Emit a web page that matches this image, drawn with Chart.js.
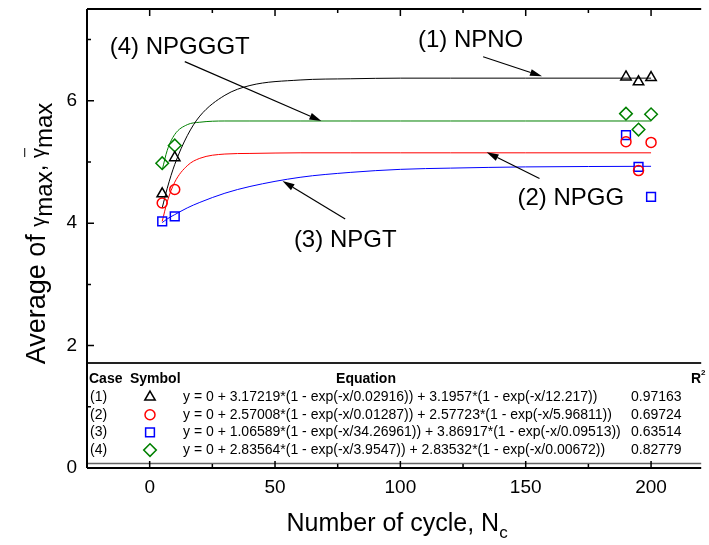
<!DOCTYPE html>
<html lang="en">
<head>
<meta charset="UTF-8">
<title>Average of gamma max vs number of cycle</title>
<script src="https://cdn.jsdelivr.net/npm/chart.js"></script>
<style>
  html, body { margin: 0; padding: 0; background: #fff; }
  #wrap { width: 709px; height: 545px; }
</style>
</head>
<body>
<div id="wrap"><canvas id="myChart" width="709" height="545"></canvas></div>
<script>
// measured points (N_c, average gamma max)
const cycles = [5, 10, 190, 195, 200];
const npnoVals = [4.48, 5.07, 6.39, 6.31, 6.38];
const npggVals = [4.33, 4.55, 5.33, 4.86, 5.32];
const npgtVals = [4.03, 4.11, 5.44, 4.92, 4.43];
const npgggtVals = [4.98, 5.27, 5.79, 5.53, 5.78];

// fitted curves
const fitX = [5, 7, 10, 15, 20, 30, 40, 60, 80, 100, 120, 150, 200];
const npnoFit = [4.25, 4.57, 4.96, 5.43, 5.75, 6.09, 6.25, 6.34, 6.36, 6.37, 6.37, 6.37, 6.37];
const npggFit = [4.03, 4.35, 4.67, 4.94, 5.06, 5.13, 5.14, 5.15, 5.15, 5.15, 5.15, 5.15, 5.15];
const npgtFit = [4.01, 4.07, 4.14, 4.25, 4.34, 4.49, 4.60, 4.75, 4.83, 4.88, 4.90, 4.92, 4.93];
const npgggtFit = [4.87, 5.19, 5.45, 5.61, 5.65, 5.67, 5.67, 5.67, 5.67, 5.67, 5.67, 5.67, 5.67];

// axes
const xTicks = [0, 50, 100, 150, 200];
const xMinor = [25, 75, 125, 175];
const yTicks = [0, 2, 4, 6];
const yMinor = [1, 3, 5, 7];

// fit table
const caseLabels = ['(1)', '(2)', '(3)', '(4)'];
const equations = [
  'y = 0 + 3.17219*(1 - exp(-x/0.02916)) + 3.1957*(1 - exp(-x/12.217))',
  'y = 0 + 2.57008*(1 - exp(-x/0.01287)) + 2.57723*(1 - exp(-x/5.96811))',
  'y = 0 + 1.06589*(1 - exp(-x/34.26961)) + 3.86917*(1 - exp(-x/0.09513))',
  'y = 0 + 2.83564*(1 - exp(-x/3.9547)) + 2.83532*(1 - exp(-x/0.00672))'
];
const rSquared = ['0.97163', '0.69724', '0.63514', '0.82779'];

// callouts (data units)
const calloutText = ['(1) NPNO', '(2) NPGG', '(3) NPGT', '(4) NPGGGT'];
const calloutX = [128, 168, 78, 12];
const calloutY = [6.99, 4.41, 3.72, 6.88];
const arrowFromX = [133, 155.5, 78, 14];
const arrowFromY = [6.72, 4.73, 4.07, 6.64];
const arrowToX = [156.5, 134.4, 53, 68.5];
const arrowToY = [6.40, 5.16, 4.69, 5.67];

const FONT = "'Liberation Sans', Arial, sans-serif";
const colors = ['#000000', '#ff0000', '#0000ff', '#008000'];
const styles = [
  { pointStyle: 'triangle', radius: 6 },
  { pointStyle: 'circle', radius: 5 },
  { pointStyle: 'rect', radius: 6.2 },
  { pointStyle: 'rectRot', radius: 6.3 }
];

const pts = (xs, ys) => xs.map((x, i) => ({ x: x, y: ys[i] }));
const seriesVals = [npnoVals, npggVals, npgtVals, npgggtVals];
const fitVals = [npnoFit, npggFit, npgtFit, npgggtFit];

const datasets = [];
seriesVals.forEach((v, i) => {
  datasets.push({
    data: pts(cycles, v),
    showLine: false,
    pointStyle: styles[i].pointStyle,
    pointRadius: styles[i].radius,
    pointBorderWidth: 1.5,
    pointBorderColor: colors[i],
    pointBackgroundColor: 'rgba(0,0,0,0)'
  });
});
fitVals.forEach((v, i) => {
  datasets.push({
    data: pts(fitX, v),
    showLine: true,
    borderColor: colors[i],
    borderWidth: 1,
    pointRadius: 0,
    cubicInterpolationMode: 'monotone'
  });
});

// rich text: parts drawn left to right, centred on (cx, cy)
function drawRich(ctx, parts, cx, cy, rot) {
  ctx.save();
  ctx.translate(cx, cy);
  if (rot) ctx.rotate(rot);
  let total = 0;
  parts.forEach(p => {
    ctx.font = p.size + 'px ' + FONT;
    p.w = ctx.measureText(p.t).width;
    total += p.w;
  });
  let x = -total / 2;
  const base = parts[0].size * 0.36;
  ctx.fillStyle = '#000';
  ctx.strokeStyle = '#000';
  ctx.textBaseline = 'alphabetic';
  ctx.textAlign = 'left';
  parts.forEach(p => {
    ctx.font = p.size + 'px ' + FONT;
    ctx.fillText(p.t, x, base + (p.dy || 0));
    if (p.over) {
      ctx.lineWidth = 1;
      ctx.beginPath();
      ctx.moveTo(x + 1, base - p.size * 1.0);
      ctx.lineTo(x + p.w, base - p.size * 1.0);
      ctx.stroke();
    }
    x += p.w;
  });
  ctx.restore();
}

function marker(ctx, i, x, y) {
  ctx.save();
  ctx.strokeStyle = colors[i];
  ctx.fillStyle = 'rgba(0,0,0,0)';
  ctx.lineWidth = 1.5;
  Chart.helpers.drawPoint(ctx, { pointStyle: styles[i].pointStyle, radius: styles[i].radius, borderWidth: 1.5, rotation: 0 }, x, y);
  ctx.restore();
}

const callouts = {
  id: 'callouts',
  afterDatasetsDraw(chart) {
    const ctx = chart.ctx, xs = chart.scales.x, ys = chart.scales.y;
    ctx.save();
    ctx.fillStyle = '#000';
    ctx.strokeStyle = '#000';
    ctx.font = '24px ' + FONT;
    ctx.textAlign = 'center';
    ctx.textBaseline = 'middle';
    calloutText.forEach((t, i) => {
      ctx.fillText(t, xs.getPixelForValue(calloutX[i]), ys.getPixelForValue(calloutY[i]));
      const x0 = xs.getPixelForValue(arrowFromX[i]), y0 = ys.getPixelForValue(arrowFromY[i]);
      const x1 = xs.getPixelForValue(arrowToX[i]), y1 = ys.getPixelForValue(arrowToY[i]);
      const a = Math.atan2(y1 - y0, x1 - x0);
      const hl = 12, hw = 3.5;
      ctx.lineWidth = 1.2;
      ctx.beginPath();
      ctx.moveTo(x0, y0);
      ctx.lineTo(x1 - hl * Math.cos(a), y1 - hl * Math.sin(a));
      ctx.stroke();
      ctx.beginPath();
      ctx.moveTo(x1, y1);
      ctx.lineTo(x1 - hl * Math.cos(a) + hw * Math.sin(a), y1 - hl * Math.sin(a) - hw * Math.cos(a));
      ctx.lineTo(x1 - hl * Math.cos(a) - hw * Math.sin(a), y1 - hl * Math.sin(a) + hw * Math.cos(a));
      ctx.closePath();
      ctx.fill();
    });
    ctx.restore();
  }
};

const frame = {
  id: 'frame',
  afterDraw(chart) {
    const ctx = chart.ctx, a = chart.chartArea, xs = chart.scales.x, ys = chart.scales.y;
    ctx.save();

    // fit table box
    const tTop = 363, tBot = 463.5;
    ctx.fillStyle = '#fff';
    ctx.fillRect(a.left + 1, tTop, a.right - a.left, tBot - tTop);
    ctx.strokeStyle = '#222';
    ctx.lineWidth = 2;
    ctx.beginPath(); ctx.moveTo(a.left, tTop); ctx.lineTo(a.right, tTop); ctx.stroke();
    ctx.strokeStyle = '#666';
    ctx.lineWidth = 1.5;
    ctx.beginPath(); ctx.moveTo(a.left, tBot); ctx.lineTo(a.right, tBot); ctx.stroke();

    ctx.fillStyle = '#000';
    ctx.textBaseline = 'middle';
    ctx.font = 'bold 14px ' + FONT;
    ctx.textAlign = 'left';
    const hy = 379;
    ctx.fillText('Case', 89, hy);
    ctx.fillText('Symbol', 130, hy);
    ctx.textAlign = 'center';
    ctx.fillText('Equation', 366, hy);
    ctx.textAlign = 'left';
    ctx.fillText('R', 691, hy);
    ctx.font = 'bold 8px ' + FONT;
    ctx.fillText('2', 701, hy - 6);

    ctx.font = '14px ' + FONT;
    caseLabels.forEach((c, i) => {
      const ry = 397 + i * 17.7;
      ctx.fillStyle = '#000';
      ctx.fillText(c, 90, ry);
      ctx.fillText(equations[i], 183, ry);
      ctx.fillText(rSquared[i], 631, ry);
      marker(ctx, i, 150, ry);
    });

    // axis frame
    ctx.strokeStyle = '#000';
    ctx.lineWidth = 2;
    ctx.beginPath();
    ctx.moveTo(a.left, a.top); ctx.lineTo(a.right, a.top);
    ctx.moveTo(a.left, a.top); ctx.lineTo(a.left, a.bottom);
    ctx.moveTo(a.left, a.bottom); ctx.lineTo(a.right, a.bottom);
    ctx.stroke();

    // inward tick marks
    ctx.lineWidth = 1.5;
    ctx.beginPath();
    const tickX = (v, len) => {
      const px = xs.getPixelForValue(v);
      ctx.moveTo(px, a.bottom); ctx.lineTo(px, a.bottom - len);
      ctx.moveTo(px, a.top); ctx.lineTo(px, a.top + len);
    };
    const tickY = (v, len) => {
      const py = ys.getPixelForValue(v);
      ctx.moveTo(a.left, py); ctx.lineTo(a.left + len, py);
    };
    xTicks.forEach(v => tickX(v, 7));
    xMinor.forEach(v => tickX(v, 4));
    yTicks.forEach(v => tickY(v, 7));
    yMinor.forEach(v => tickY(v, 4));
    ctx.stroke();

    // axis titles
    drawRich(ctx, [
      { t: 'Number of cycle, N', size: 25 },
      { t: 'c', size: 17, dy: 7 }
    ], (a.left + a.right) / 2 + 3, a.bottom + 54);
    drawRich(ctx, [
      { t: 'Average of ', size: 27 },
      { t: '\u03b3', size: 20 },
      { t: 'max', size: 24, dy: 7 },
      { t: ', ', size: 24 },
      { t: '\u03b3', size: 20, over: true },
      { t: 'max', size: 24, dy: 7 }
    ], a.left - 52, (a.top + a.bottom) / 2 - 5, -Math.PI / 2);

    ctx.restore();
  }
};

const chart = new Chart(document.getElementById('myChart'), {
  type: 'scatter',
  data: { datasets: datasets },
  options: {
    responsive: false,
    animation: false,
    events: [],
    layout: { padding: { top: 9, right: 0, bottom: 0, left: 0 } },
    plugins: { legend: { display: false }, tooltip: { enabled: false } },
    scales: {
      x: {
        type: 'linear', min: -25, max: 220,
        afterBuildTicks: s => { s.ticks = xTicks.map(v => ({ value: v })); },
        afterFit: s => { s.height = 77; s.paddingLeft = 0; s.paddingRight = 0; },
        ticks: { color: '#000', font: { size: 19, family: FONT }, padding: 8, maxRotation: 0 },
        grid: { display: false, drawTicks: false },
        border: { display: false }
      },
      y: {
        type: 'linear', min: 0, max: 7.5,
        afterBuildTicks: s => { s.ticks = yTicks.map(v => ({ value: v })); },
        afterFit: s => { s.width = 87; s.paddingTop = 0; s.paddingBottom = 0; },
        ticks: { color: '#000', font: { size: 19, family: FONT }, padding: 10 },
        grid: { display: false, drawTicks: false },
        border: { display: false }
      }
    }
  },
  plugins: [callouts, frame]
});
</script>
</body>
</html>
